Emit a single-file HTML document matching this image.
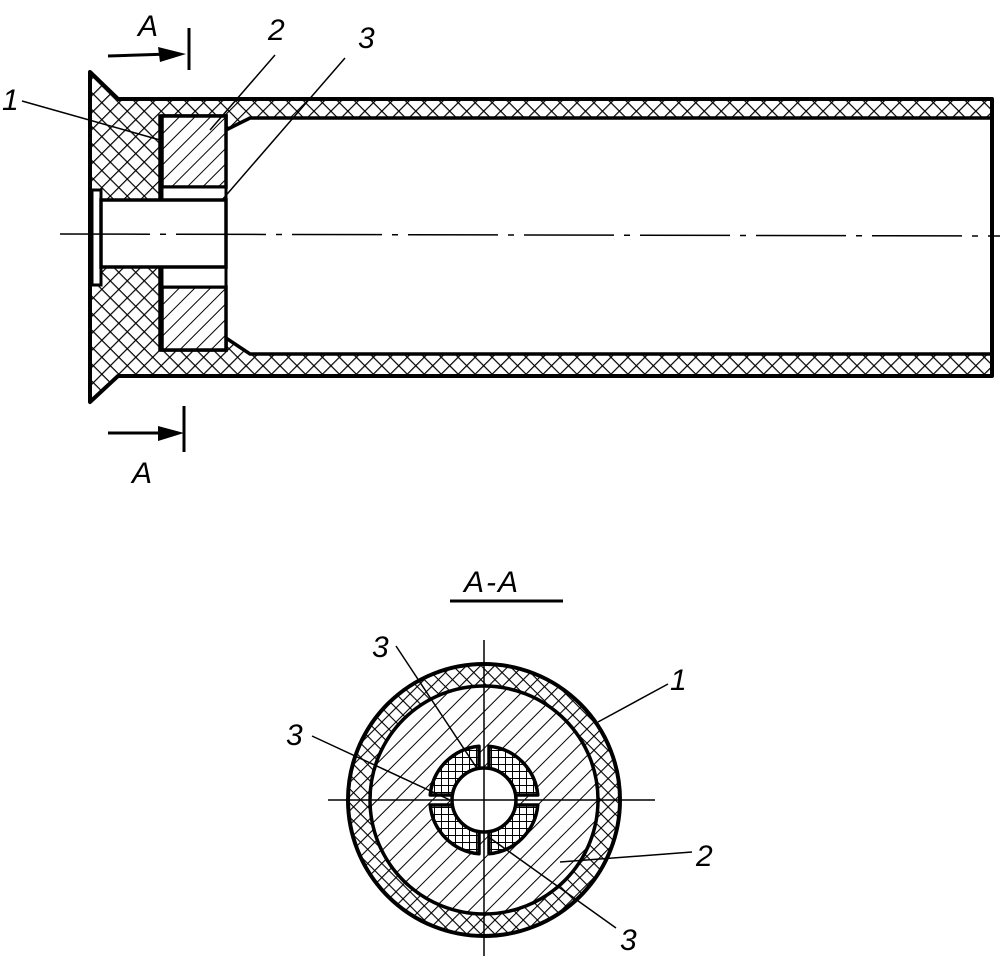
<!DOCTYPE html>
<html><head><meta charset="utf-8"><style>
html,body{margin:0;padding:0;background:#fff;}
svg{display:block}
text{font-family:"Liberation Sans",sans-serif;font-style:italic;font-size:30px;fill:#000}
</style></head><body>
<svg width="1000" height="956" viewBox="0 0 1000 956" xmlns="http://www.w3.org/2000/svg">
<defs>
<pattern id="xh" width="12" height="12" patternUnits="userSpaceOnUse" patternTransform="rotate(45)">
<rect width="12" height="12" fill="#fff"/>
<line x1="0" y1="0" x2="0" y2="12" stroke="#000" stroke-width="2.4"/>
<line x1="0" y1="0" x2="12" y2="0" stroke="#000" stroke-width="2.4"/>
</pattern>
<pattern id="xh2" width="10" height="10" patternUnits="userSpaceOnUse" patternTransform="rotate(45)">
<rect width="10" height="10" fill="#fff"/>
<line x1="0" y1="0" x2="0" y2="10" stroke="#000" stroke-width="2.2"/>
<line x1="0" y1="0" x2="10" y2="0" stroke="#000" stroke-width="2.2"/>
</pattern>
<pattern id="xh3" width="7" height="7" patternUnits="userSpaceOnUse">
<rect width="7" height="7" fill="#fff"/>
<line x1="0" y1="0" x2="0" y2="7" stroke="#000" stroke-width="2"/>
<line x1="0" y1="0" x2="7" y2="0" stroke="#000" stroke-width="2"/>
</pattern>
<pattern id="hh" width="11" height="11" patternUnits="userSpaceOnUse" patternTransform="rotate(45)">
<rect width="11" height="11" fill="#fff"/>
<line x1="0" y1="0" x2="0" y2="11" stroke="#000" stroke-width="2"/>
</pattern>
<pattern id="hh2" width="13" height="13" patternUnits="userSpaceOnUse" patternTransform="rotate(45)">
<rect width="13" height="13" fill="#fff"/>
<line x1="0" y1="0" x2="0" y2="13" stroke="#000" stroke-width="2"/>
</pattern>
</defs>

<!-- Top drawing -->
<path d="M90 72 L118 99 L992 99 L992 376 L118 376 L90 402 Z" fill="url(#xh)" stroke="#000" stroke-width="4" stroke-linejoin="round"/>
<path d="M160 116 L226 116 L226 130 L250 118 L992 118 L992 354 L250 354 L226 338 L226 350 L160 350 Z" fill="#fff" stroke="#000" stroke-width="3.5"/>
<rect x="162" y="116" width="64" height="71" fill="url(#hh)" stroke="#000" stroke-width="3.5"/>
<rect x="162" y="287" width="64" height="63" fill="url(#hh)" stroke="#000" stroke-width="3.5"/>
<rect x="162" y="187" width="64" height="13" fill="#fff" stroke="#000" stroke-width="3"/>
<rect x="162" y="267" width="64" height="20" fill="#fff" stroke="#000" stroke-width="3"/>
<rect x="92" y="190" width="9" height="95" fill="#fff" stroke="#000" stroke-width="3"/>
<rect x="101" y="200" width="125" height="67" fill="#fff" stroke="#000" stroke-width="3.5"/>
<line x1="90" y1="72" x2="90" y2="402" stroke="#000" stroke-width="4"/>
<line x1="992" y1="99" x2="992" y2="376" stroke="#000" stroke-width="4"/>
<line x1="60" y1="234" x2="1000" y2="236" stroke="#000" stroke-width="1.5" stroke-dasharray="90,10,6,10"/>

<!-- Section arrows -->
<text x="138" y="36">A</text>
<line x1="108" y1="56" x2="170" y2="54" stroke="#000" stroke-width="3"/>
<path d="M158 47 L186 54 L160 62 Z" fill="#000"/>
<line x1="189" y1="28" x2="189" y2="70" stroke="#000" stroke-width="3"/>
<line x1="108" y1="433" x2="170" y2="433" stroke="#000" stroke-width="3"/>
<path d="M158 426 L184 433 L158 441 Z" fill="#000"/>
<line x1="184" y1="406" x2="184" y2="452" stroke="#000" stroke-width="3"/>
<text x="132" y="483">A</text>

<!-- Labels top -->
<text x="2" y="110">1</text>
<line x1="22" y1="101" x2="160" y2="140" stroke="#000" stroke-width="1.5"/>
<text x="268" y="40">2</text>
<line x1="275" y1="55" x2="210" y2="130" stroke="#000" stroke-width="1.5"/>
<text x="358" y="48">3</text>
<line x1="345" y1="58" x2="222" y2="200" stroke="#000" stroke-width="1.5"/>

<!-- Section A-A -->
<text x="464" y="592" style="letter-spacing:2px">A-A</text>
<line x1="450" y1="601" x2="563" y2="601" stroke="#000" stroke-width="3"/>

<circle cx="484" cy="800" r="136" fill="url(#xh2)" stroke="#000" stroke-width="4"/>
<circle cx="484" cy="800" r="114" fill="url(#hh2)" stroke="#000" stroke-width="3.5"/>
<g fill="url(#xh3)" stroke="#000" stroke-width="3.5" stroke-linejoin="round">
<path transform="translate(484,800)" d="M5 31.6 L5 53.8 A54 54 0 0 0 53.8 5 L31.6 5 A32 32 0 0 1 5 31.6 Z"/>
<path transform="translate(484,800) scale(-1,1)" d="M5 31.6 L5 53.8 A54 54 0 0 0 53.8 5 L31.6 5 A32 32 0 0 1 5 31.6 Z"/>
<path transform="translate(484,800) scale(1,-1)" d="M5 31.6 L5 53.8 A54 54 0 0 0 53.8 5 L31.6 5 A32 32 0 0 1 5 31.6 Z"/>
<path transform="translate(484,800) scale(-1,-1)" d="M5 31.6 L5 53.8 A54 54 0 0 0 53.8 5 L31.6 5 A32 32 0 0 1 5 31.6 Z"/>
</g>
<circle cx="484" cy="800" r="32" fill="#fff" stroke="#000" stroke-width="3.5"/>
<line x1="484" y1="640" x2="484" y2="956" stroke="#000" stroke-width="1.5"/>
<line x1="328" y1="800" x2="655" y2="800" stroke="#000" stroke-width="1.5"/>

<!-- Labels circle -->
<text x="372" y="657">3</text>
<line x1="396" y1="646" x2="478" y2="770" stroke="#000" stroke-width="1.5"/>
<text x="286" y="745">3</text>
<line x1="312" y1="736" x2="450" y2="800" stroke="#000" stroke-width="1.5"/>
<text x="670" y="690">1</text>
<line x1="668" y1="684" x2="598" y2="722" stroke="#000" stroke-width="1.5"/>
<text x="696" y="866">2</text>
<line x1="692" y1="852" x2="560" y2="862" stroke="#000" stroke-width="1.5"/>
<text x="620" y="950">3</text>
<line x1="616" y1="928" x2="490" y2="838" stroke="#000" stroke-width="1.5"/>
</svg>
</body></html>
